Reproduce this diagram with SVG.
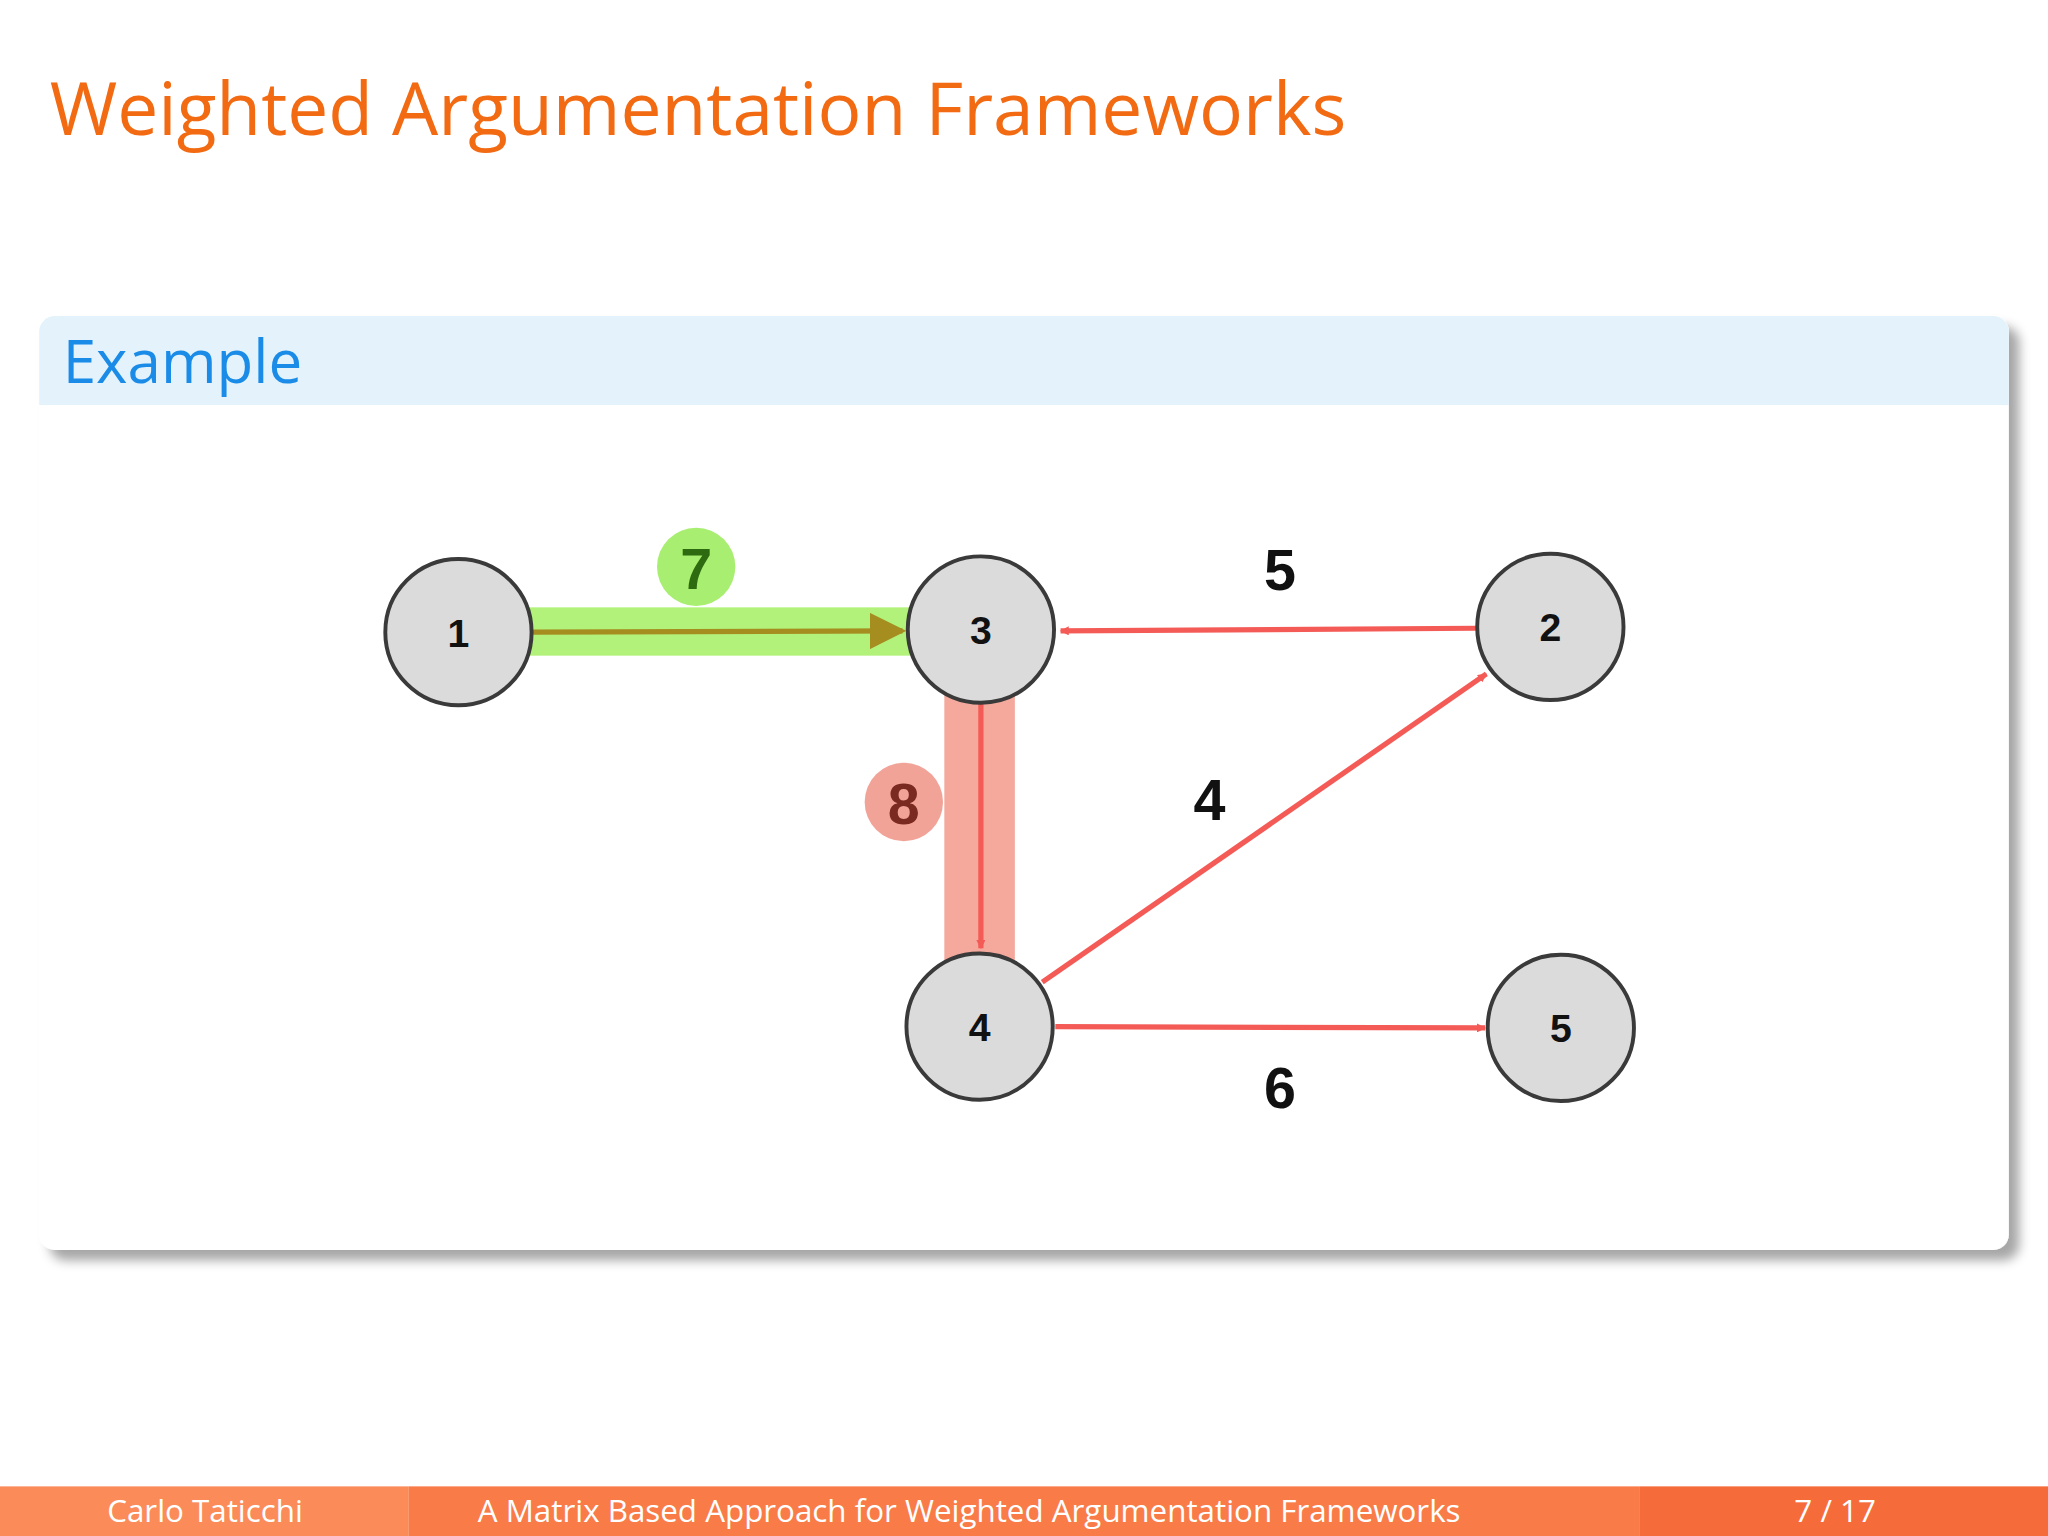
<svg xmlns="http://www.w3.org/2000/svg" width="2048" height="1536" viewBox="0 0 2048 1536">
<defs>
<style>
.n circle{fill:#dcdbdc;stroke:#3a3a3a;stroke-width:3}
.n text{font-family:"Liberation Sans",Arial,sans-serif;font-weight:bold;font-size:30px;text-anchor:middle;fill:#111}
.lbl{font-family:"Liberation Sans",Arial,sans-serif;font-weight:bold;font-size:44px;text-anchor:middle;fill:#111}
.e{stroke:#f45b57;stroke-width:4;fill:none}
.ft{font-family:"Open Sans","DejaVu Sans",sans-serif;font-size:24px;fill:#fff}
</style>
<marker id="ar" viewBox="0 0 10 10" refX="9" refY="5" markerWidth="7" markerHeight="7" markerUnits="userSpaceOnUse" orient="auto"><path d="M0,0L10,5L0,10z" fill="#f45b57"/></marker>
<marker id="ag" viewBox="0 0 10 10" refX="9" refY="5" markerWidth="7" markerHeight="7" orient="auto"><path d="M0,0L10,5L0,10z" fill="#a58d20"/></marker>
<filter id="sh" x="-5%" y="-5%" width="110%" height="115%"><feDropShadow dx="8" dy="8" stdDeviation="4" flood-color="#000" flood-opacity="0.35"/></filter>
</defs>
<rect width="2048" height="1536" fill="#fff"/>
<g transform="scale(1.30612)">
<text x="38" y="103" font-family="Open Sans,DejaVu Sans,sans-serif" font-size="56" fill="#f26a12">Weighted Argumentation Frameworks</text>
<rect x="30" y="242" width="1508" height="715" rx="12" fill="#fff" filter="url(#sh)"/>
<path d="M30,310V254a12,12 0 0 1 12,-12H1526a12,12 0 0 1 12,12V310z" fill="#e4f2fc"/>
<text x="48" y="293" font-family="Open Sans,DejaVu Sans,sans-serif" font-size="46" fill="#1a8ce8">Example</text>
<rect x="403" y="465" width="297" height="37" fill="#b2f27a"/>
<rect x="723" y="523" width="54" height="221" rx="6" fill="#f5a99d"/>
<circle cx="533" cy="434" r="30" fill="#a8ee70"/>
<text x="533" y="451" class="lbl" fill="#2e6a10" style="fill:#2e6a10">7</text>
<circle cx="692" cy="614" r="30" fill="#f2a398"/>
<text x="692" y="631" class="lbl" style="fill:#7a2a20">8</text>
<g id="connectors">
<line x1="408" y1="484" x2="691" y2="483" stroke="#a58d20" stroke-width="4" marker-end="url(#ag)"/>
<line class="e" x1="751" y1="538" x2="751" y2="726" marker-end="url(#ar)"/>
<line class="e" x1="1130" y1="481" x2="812" y2="483" marker-end="url(#ar)"/>
<line class="e" x1="798" y1="752" x2="1138" y2="516" marker-end="url(#ar)"/>
<line class="e" x1="808" y1="786" x2="1137" y2="787" marker-end="url(#ar)"/>
</g>
<text class="lbl" x="980" y="452">5</text>
<text class="lbl" x="926" y="628">4</text>
<text class="lbl" x="980" y="848">6</text>
<g id="n1" class="n"><circle cx="351" cy="484" r="56"/><text x="351" y="495">1</text></g>
<g id="n3" class="n"><circle cx="751" cy="482" r="56"/><text x="751" y="493">3</text></g>
<g id="n2" class="n"><circle cx="1187" cy="480" r="56"/><text x="1187" y="491">2</text></g>
<g id="n4" class="n"><circle cx="750" cy="786" r="56"/><text x="750" y="797">4</text></g>
<g id="n5" class="n"><circle cx="1195" cy="787" r="56"/><text x="1195" y="798">5</text></g>
<rect x="0" y="1138" width="313" height="38" fill="#fb8c5a"/>
<rect x="313" y="1138" width="942" height="38" fill="#f97b48"/>
<rect x="1255" y="1138" width="313" height="38" fill="#f56c3a"/>
<text class="ft" x="157" y="1165" text-anchor="middle">Carlo Taticchi</text>
<text class="ft" x="742" y="1165" text-anchor="middle">A Matrix Based Approach for Weighted Argumentation Frameworks</text>
<text class="ft" x="1405" y="1165" text-anchor="middle">7 / 17</text>
</g>
</svg>
